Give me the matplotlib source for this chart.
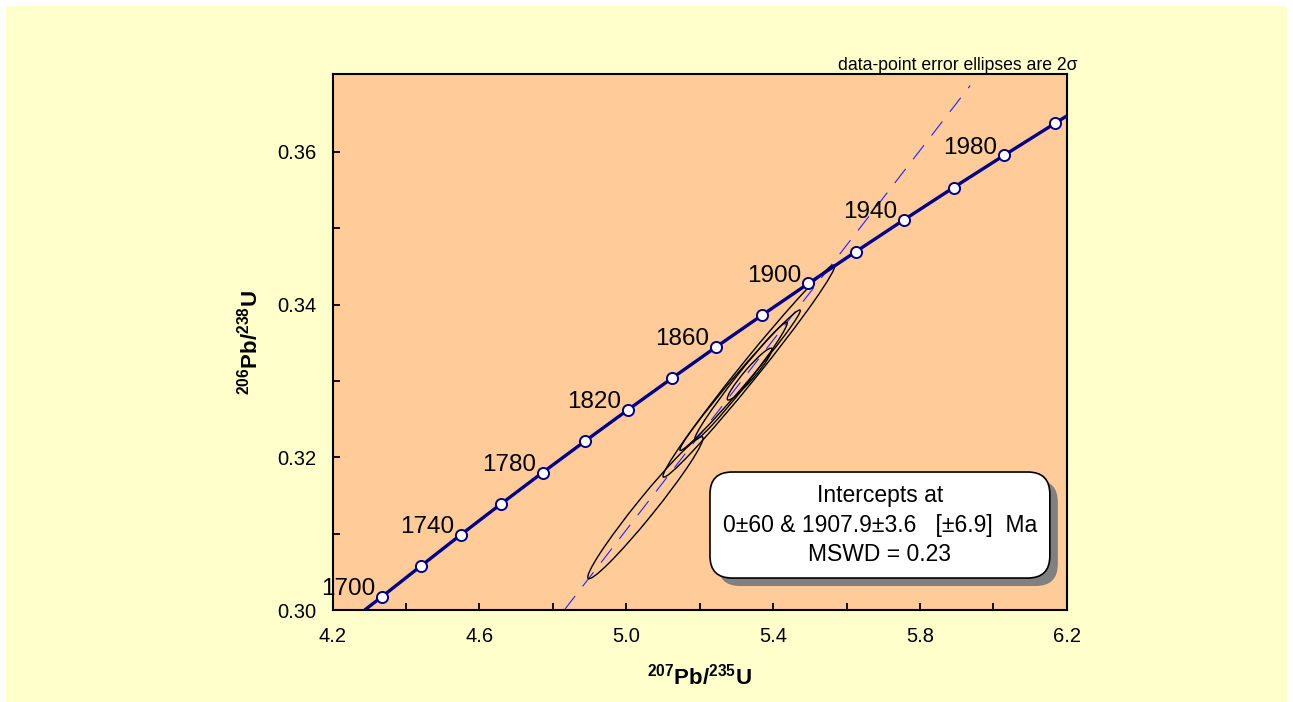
import matplotlib
matplotlib.use("Agg")
import matplotlib.pyplot as plt
import matplotlib.patches as mpatches
import matplotlib.transforms as mtransforms
import numpy as np

# Concordia marker ages (Ma) and their ratios
ages = [1700, 1720, 1740, 1760, 1780, 1800, 1820, 1840,
        1860, 1880, 1900, 1920, 1940, 1960, 1980, 2000]
conc_x = [4.3348, 4.4409, 4.5491, 4.6595, 4.7721, 4.8869, 5.0040, 5.1234,
          5.2452, 5.3695, 5.4962, 5.6254, 5.7572, 5.8916, 6.0287, 6.1685]
conc_y = [0.30177, 0.30579, 0.30986, 0.31393, 0.31801, 0.32210, 0.32621, 0.33033,
          0.33447, 0.33861, 0.34277, 0.34694, 0.35113, 0.35533, 0.35954, 0.36376]
# where the concordia leaves the plot box
conc_start = (4.287, 0.3000)
conc_end = (6.200, 0.36471)
label_ages = [1700, 1740, 1780, 1820, 1860, 1900, 1940, 1980]

# Discordia (0 Ma -> 1907.9 Ma), visible part
disc_x = [4.831, 5.937]
disc_y = [0.3000, 0.3687]

# Data-point error ellipses (2 sigma): centre, half-extent, correlation
ell_x = [5.052, 5.334, 5.310, 5.3125, 5.336]
ell_y = [0.3134, 0.3313, 0.3301, 0.3300, 0.3309]
ell_sx = [0.157, 0.234, 0.164, 0.126, 0.061]
ell_sy = [0.0093, 0.0139, 0.0092, 0.0077, 0.0034]
ell_rho = [0.978, 0.990, 0.990, 0.985, 0.950]

FONT = "Liberation Sans"
plt.rcParams["font.family"] = [FONT, "DejaVu Sans"]
plt.rcParams["mathtext.fontset"] = "custom"
plt.rcParams["mathtext.rm"] = FONT
plt.rcParams["mathtext.bf"] = FONT + ":bold"
plt.rcParams["mathtext.it"] = FONT + ":italic"

NAVY = "#000088"
fig = plt.figure(figsize=(12.93, 7.02), dpi=100)
fig.patch.set_facecolor("white")
bg = mpatches.Rectangle((6 / 1293, 0), 1281 / 1293, 1 - 6 / 702,
                        transform=fig.transFigure, facecolor="#FFFFCC",
                        edgecolor="none", zorder=-10)
fig.add_artist(bg)

ax = fig.add_axes([0.2573, 0.131, 0.5677, 0.7635])
ax.set_facecolor("#FFCC99")
ax.set_xlim(4.2, 6.2)
ax.set_ylim(0.30, 0.3702)

# error ellipses
for mx, my, sx, sy, rho in zip(ell_x, ell_y, ell_sx, ell_sy, ell_rho):
    e = mpatches.Ellipse((0, 0), width=2 * np.sqrt(1 + rho), height=2 * np.sqrt(1 - rho),
                         facecolor="none", edgecolor="black", lw=1.0, zorder=3)
    tr = mtransforms.Affine2D().rotate_deg(45).scale(sx, sy).translate(mx, my)
    e.set_transform(tr + ax.transData)
    ax.add_patch(e)

# discordia
ax.plot(disc_x, disc_y, color="#2222FF", lw=0.8, linestyle=(0, (16, 11)), zorder=2)

# concordia curve and markers
cx = [conc_start[0]] + conc_x + [conc_end[0]]
cy = [conc_start[1]] + conc_y + [conc_end[1]]
ax.plot(cx, cy, color=NAVY, lw=2.4, zorder=4, solid_capstyle="butt")
ax.plot(conc_x, conc_y, "o", ms=8, mfc="white", mec=NAVY, mew=1.4, zorder=5)
for a, x, y in zip(ages, conc_x, conc_y):
    if a in label_ages:
        ax.annotate(str(a), (x, y), xytext=(-5, 5.5), textcoords="offset points",
                    ha="right", va="center", fontsize=17.5, color="black", zorder=6)

# ticks
ax.set_xticks([4.2, 4.6, 5.0, 5.4, 5.8, 6.2])
ax.set_xticks([4.4, 4.8, 5.2, 5.6, 6.0], minor=True)
ax.set_yticks([0.30, 0.32, 0.34, 0.36])
ax.set_yticks([0.31, 0.33, 0.35], minor=True)
ax.set_xticklabels(["4.2", "4.6", "5.0", "5.4", "5.8", "6.2"])
ax.set_yticklabels(["0.30", "0.32", "0.34", "0.36"])
ax.tick_params(which="both", direction="in", length=5, width=1.3,
               top=False, right=False, labelsize=14.5, pad=12)
for s in ax.spines.values():
    s.set_linewidth(1.5)
    s.set_color("black")

ax.set_xlabel(r"$\mathbf{^{207}Pb/^{235}U}$", fontsize=16, labelpad=13)
ax.set_ylabel(r"$\mathbf{^{206}Pb/^{238}U}$", fontsize=16, labelpad=10)

ax.text(1.014, 1.0, "data-point error ellipses are 2σ", transform=ax.transAxes,
        ha="right", va="bottom", fontsize=12.7, zorder=7)

# intercept box with shadow
bx0, by0, bw, bh = 0.514, 0.0597, 0.463, 0.1978
asp = 734 / 536
shadow = mpatches.FancyBboxPatch((bx0 + 0.0109, by0 - 0.0149), bw, bh,
                                 boxstyle="round,pad=0,rounding_size=0.03",
                                 mutation_aspect=asp, transform=ax.transAxes,
                                 facecolor="#808080", edgecolor="none", zorder=7)
box = mpatches.FancyBboxPatch((bx0, by0), bw, bh,
                              boxstyle="round,pad=0,rounding_size=0.03",
                              mutation_aspect=asp, transform=ax.transAxes,
                              facecolor="white", edgecolor="black", lw=1.2, zorder=8)
ax.add_patch(shadow)
ax.add_patch(box)
ax.text(bx0 + bw / 2, by0 + bh / 2,
        "Intercepts at\n0±60 & 1907.9±3.6   [±6.9]  Ma\nMSWD = 0.23",
        transform=ax.transAxes, ha="center", va="center", fontsize=16.5,
        linespacing=1.37, zorder=9)

fig.savefig("out.png", dpi=100)
